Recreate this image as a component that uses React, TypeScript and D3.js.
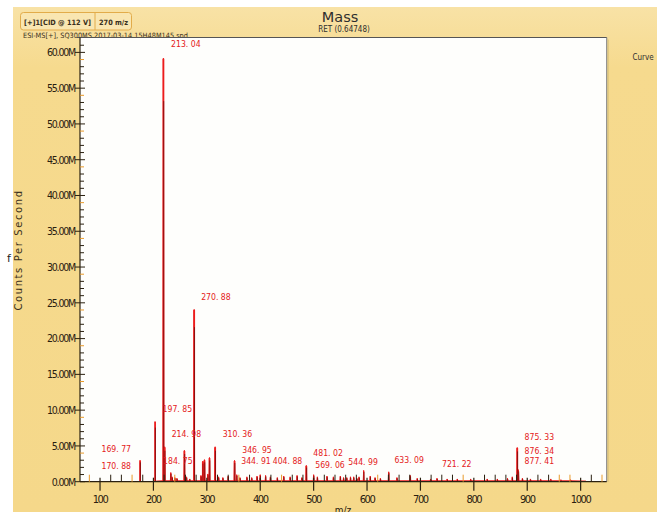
import React from 'react'
import * as d3 from 'd3'

const W = 657
const H = 512

// peaks as they sit on the drawn m/z axis: [m/z, counts in millions]
const mainPeaks: [number, number][] = [
  [175.0, 3.0], [203.1, 8.4], [218.7, 59.1], [221.0, 4.8], [232.5, 1.2],
  [258.0, 4.3], [276.3, 24.0], [292.5, 2.8], [295.6, 3.0], [305.0, 3.3],
  [315.6, 4.8], [351.9, 2.9], [486.3, 2.2], [593.7, 1.5], [640.6, 1.3],
  [681.0, 0.8], [881.3, 4.7], [883.5, 1.6]
]

const smallPeaks: [number, number][] = [
  [235, 0.6], [240, 0.5], [244, 0.4], [262, 0.6], [268, 0.3], [289, 0.8],
  [302, 1.0], [322, 0.6], [330, 0.5], [340, 0.7], [356, 0.9], [362, 0.5],
  [375, 0.6], [384, 0.5], [394, 0.7], [400, 0.9], [410, 0.8], [419, 0.6],
  [432, 0.5], [444, 0.7], [456, 0.6], [469, 0.8], [478, 0.5], [500, 0.9],
  [507, 0.6], [525, 0.7], [537, 0.6], [550, 0.7], [556, 0.5], [562, 0.5],
  [569, 0.6], [575, 0.6], [581, 0.4], [585, 0.6], [606, 0.7], [615, 0.5],
  [625, 0.4], [656, 0.5], [694, 0.4], [719, 0.3], [731, 0.4], [750, 0.3],
  [769, 0.3], [794, 0.3], [825, 0.3], [844, 0.3], [863, 0.4], [872, 0.6],
  [891, 0.4], [906, 0.3], [925, 0.3], [944, 0.3], [963, 0.2], [981, 0.2]
]

// annotation text with its anchor [text, m/z, counts M]
const peakLabels: [string, number, number][] = [
  ['213. 04', 233.1, 60.8],
  ['270. 88', 289.4, 25.4],
  ['197. 85', 217.2, 9.68],
  ['214. 98', 234.1, 6.25],
  ['184. 75', 218.1, 2.41],
  ['169. 77', 102.8, 4.22],
  ['170. 88', 102.8, 1.78],
  ['310. 36', 329.7, 6.18],
  ['346. 95', 366.3, 4.08],
  ['344. 91', 364.4, 2.48],
  ['404. 88', 423.5, 2.48],
  ['481. 02', 499.4, 3.59],
  ['569. 06', 503.1, 1.92],
  ['544. 99', 565.0, 2.34],
  ['633. 09', 651.3, 2.62],
  ['721. 22', 740.4, 2.06],
  ['875. 33', 895.0, 5.83],
  ['876. 34', 895.0, 3.94],
  ['877. 41', 895.0, 2.41]
]

const xTickValues = [100, 200, 300, 400, 500, 600, 700, 800, 900, 1000]
const yTickValues = [0, 5, 10, 15, 20, 25, 30, 35, 40, 45, 50, 55, 60]
const xOrangeMinor = [80, 160, 240, 360, 440, 620, 780, 800, 960, 980, 1040]

const narrow = "'Liberation Sans Narrow', 'DejaVu Sans Condensed', 'Arial Narrow', sans-serif"
const red = '#ec1c1c'

export default function App() {
  // plot box
  const left = 80
  const right = 606.7
  const top = 37.5
  const bottom = 481.7

  const x = d3.scaleLinear().domain([62.5, 1048.8]).range([left, right])
  const y = d3.scaleLinear().domain([0, 62.08]).range([bottom, top])

  const allPeaks = [...mainPeaks, ...smallPeaks].sort((a, b) => a[0] - b[0])

  // baseline trace with little spikes, from ~205 to ~1010
  const profile: [number, number][] = [[205, 0]]
  allPeaks.filter(p => p[0] > 205).forEach(p => {
    profile.push([p[0] - 0.8, 0.05])
    profile.push([p[0], p[1]])
    profile.push([p[0] + 0.8, 0.05])
  })
  profile.push([1010, 0])
  const line = d3.line<[number, number]>()
    .x(d => x(d[0]))
    .y(d => y(d[1]) - 0.6)

  const xMinor = d3.range(80, 1041, 20).filter(v => v % 100 !== 0)
  const yMinor = d3.range(0, 62, 1).filter(v => v % 5 !== 0)

  return (
    <svg width={W} height={H} style={{ position: 'fixed', left: 0, top: 0, background: '#fff' }}>
      <defs>
        <linearGradient id="bg" x1="0" y1="0" x2="0" y2="1">
          <stop offset="0" stopColor="#f8e2a6" />
          <stop offset="0.12" stopColor="#f6da8e" />
          <stop offset="1" stopColor="#f5d88a" />
        </linearGradient>
      </defs>
      <rect x={13} y={7} width={W - 13} height={H - 7} fill="url(#bg)" />

      {/* header */}
      <rect x={20.5} y={12.5} width={111} height={17.5} rx={3} fill="#f9e6b1" stroke="#e2ac4a" />
      <line x1={95} x2={95} y1={13} y2={30} stroke="#e2ac4a" />
      <text x={24} y={24.5} fontFamily={narrow} fontSize={7.3} fontWeight="bold" fill="#3a3020">[+]1[CID @ 112 V]</text>
      <text x={99} y={24.5} fontFamily={narrow} fontSize={7.3} fontWeight="bold" fill="#3a3020">270 m/z</text>
      <text x={23} y={37.5} fontFamily={narrow} fontSize={7.3} fill="#3a3020">ESI-MS[+], SQ300MS 2017-03-14 15H48M145.spd</text>

      <text x={340} y={22} textAnchor="middle" fontFamily="'DejaVu Sans', sans-serif" fontSize={14.5} fill="#2e2e2e">Mass</text>
      <text x={344} y={32} textAnchor="middle" fontFamily={narrow} fontSize={8} fill="#2e2e2e">RET (0.64748)</text>
      <text x={643} y={60} textAnchor="middle" fontFamily={narrow} fontSize={8} fill="#2e2e2e">Curve</text>

      {/* plot area */}
      <rect x={left} y={top} width={right - left} height={bottom - top} fill="#fefefc" />
      <line x1={right} x2={right} y1={top} y2={bottom} stroke="#8a8a8a" strokeWidth={1.2} />
      <line x1={right + 1.5} x2={right + 1.5} y1={top + 2} y2={bottom} stroke="#d9c27a" strokeWidth={1} />
      <line x1={left - 3} x2={right} y1={top} y2={top} stroke="#555" strokeWidth={1.2} />

      {/* y axis title */}
      <text
        transform="translate(22,250) rotate(-90)"
        textAnchor="middle"
        fontFamily="'DejaVu Sans', sans-serif"
        fontSize={10}
        letterSpacing={1.6}
        fill="#3a3020"
      >
        Counts Per Second
      </text>
      <text x={7} y={262} fontFamily="'DejaVu Sans', sans-serif" fontSize={11} fill="#222">f</text>

      {/* spectrum */}
      <path d={line(profile) || ''} fill="none" stroke={red} strokeWidth={1} />
      {allPeaks.map((p, i) => (
        <g key={'p' + i}>
          <line x1={x(p[0])} x2={x(p[0])} y1={bottom} y2={y(p[1])} stroke={red} strokeWidth={p[1] > 2 ? 1.8 : 1.1} />
          <line x1={x(p[0]) + 0.3} x2={x(p[0]) + 0.3} y1={bottom} y2={y(p[1] * 0.9)} stroke="#4a0606" strokeWidth={0.6} />
        </g>
      ))}

      {/* peak labels */}
      {peakLabels.map((l, i) => (
        <text key={'l' + i} x={x(l[1])} y={y(l[2])} fontFamily={narrow} fontSize={8.6} fill="#e42020">{l[0]}</text>
      ))}

      {/* y axis */}
      <line x1={left} x2={left} y1={top} y2={bottom} stroke="#2a2010" strokeWidth={1.2} />
      {yMinor.map(v => (
        <line key={'ym' + v} x1={left} x2={left + 4} y1={y(v)} y2={y(v)}
          stroke={v % 5 === 4 ? '#e89a2a' : '#2a2010'} strokeWidth={1} />
      ))}
      {yTickValues.map(v => (
        <g key={'y' + v}>
          <line x1={left - 5} x2={left + 5} y1={y(v)} y2={y(v)} stroke="#2a2010" strokeWidth={1} />
          <text x={left - 5} y={y(v) + 3.8} textAnchor="end" fontFamily={narrow} fontSize={10.5}
            letterSpacing={-1.2} fill="#2a2010">{d3.format('.2f')(v) + 'M'}</text>
        </g>
      ))}

      {/* x axis */}
      <line x1={left} x2={right} y1={bottom} y2={bottom} stroke="#2a2010" strokeWidth={1.2} />
      {xMinor.map(v => (
        <line key={'xm' + v} x1={x(v)} x2={x(v)} y1={bottom} y2={bottom - 7}
          stroke={xOrangeMinor.includes(v) ? '#e89a2a' : '#2a2010'} strokeWidth={1} />
      ))}
      {xTickValues.map(v => (
        <g key={'x' + v}>
          <line x1={x(v)} x2={x(v)} y1={bottom - 4} y2={bottom + 9} stroke="#2a2010" strokeWidth={1.2} />
          <text x={x(v)} y={503} textAnchor="middle" fontFamily={narrow} fontSize={11}
            letterSpacing={-1.4} fill="#2a2010">{v}</text>
        </g>
      ))}
      <text x={343} y={514} textAnchor="middle" fontFamily={narrow} fontSize={10} fill="#2a2010">m/z</text>
    </svg>
  )
}
